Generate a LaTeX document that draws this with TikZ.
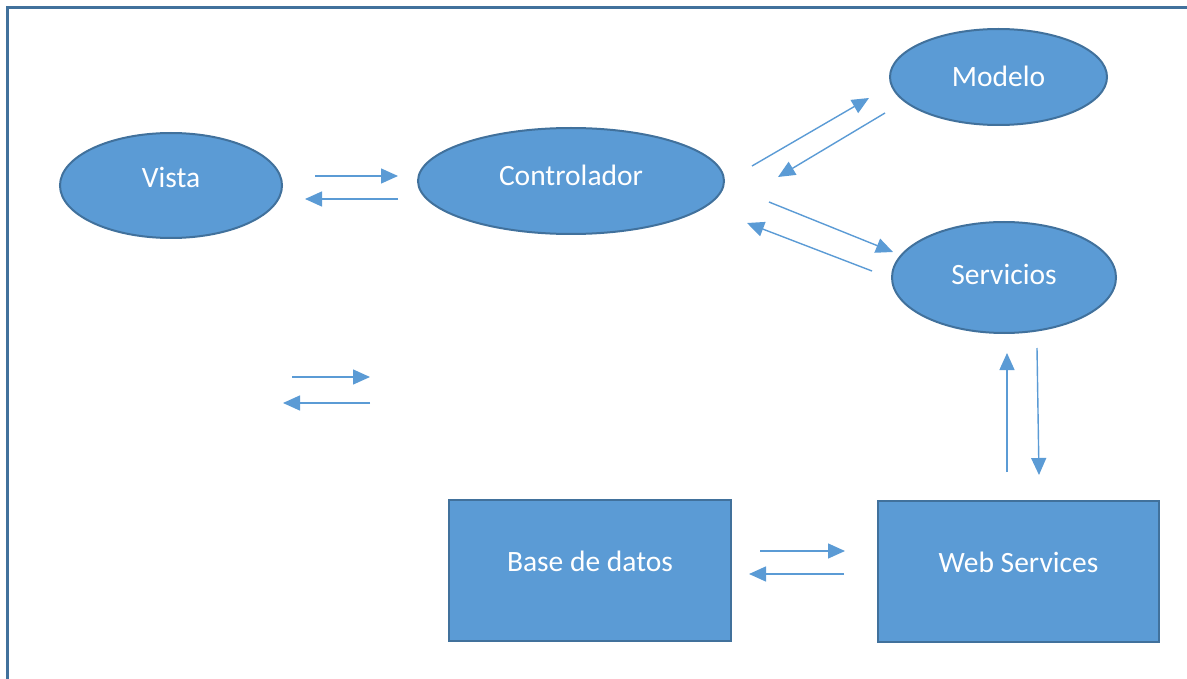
\documentclass[tikz,border=0pt]{standalone}
\usepackage{fontspec}
\setmainfont{Carlito}
\usetikzlibrary{arrows.meta,shapes.geometric}
\definecolor{fillb}{HTML}{5B9BD5}
\definecolor{edgeb}{HTML}{41719C}
\tikzset{
  shp/.style={fill=fillb,draw=edgeb,line width=2pt,inner sep=0pt},
  ell/.style={shp,ellipse},
  box/.style={shp,rectangle},
  txt/.style={text=white,font=\fontsize{29.5}{34}\selectfont},
  arr/.style={draw=fillb,line width=1.4pt,-{Triangle[length=17pt,width=15pt]}},
}
\begin{document}
\begin{tikzpicture}[x=1pt,y=-1pt]
\useasboundingbox (0,0) rectangle (1187,679);
% frame
\draw[edgeb,line width=3pt] (7,690) -- (7,7.5) -- (1200,7.5);
% shapes
\node[ell,minimum width=222pt,minimum height=105pt,label={[txt,yshift=8pt]center:Vista}] (vista) at (171,185.5) {};
\node[ell,minimum width=306pt,minimum height=106pt,label={[txt,yshift=6pt]center:Controlador}] (ctrl) at (571,181) {};
\node[ell,minimum width=217pt,minimum height=96pt,label={[txt,yshift=1pt]center:Modelo}] (modelo) at (998.5,77) {};
\node[ell,minimum width=224pt,minimum height=111pt,label={[txt,yshift=3.5pt]center:Servicios}] (serv) at (1004,277.5) {};
\node[box,minimum width=282pt,minimum height=141pt,label={[txt,yshift=9pt]center:Base de datos}] (bd) at (590,570.5) {};
\node[box,minimum width=281pt,minimum height=141pt,label={[txt,yshift=9pt]center:Web Services}] (ws) at (1018.5,571.5) {};
% arrow end points
\coordinate (a1s) at (315,176); \coordinate (a1e) at (398,176);
\coordinate (a2s) at (398,199); \coordinate (a2e) at (305,199);
\coordinate (a3s) at (752,166); \coordinate (a3e) at (869,98);
\coordinate (a4s) at (885,113); \coordinate (a4e) at (778,177);
\coordinate (a5s) at (769,202); \coordinate (a5e) at (893,252);
\coordinate (a6s) at (872,271); \coordinate (a6e) at (747,223);
\coordinate (a7s) at (292,377); \coordinate (a7e) at (370,377);
\coordinate (a8s) at (370,403); \coordinate (a8e) at (283,403);
\coordinate (a9s) at (1007,472); \coordinate (a9e) at (1007,353);
\coordinate (a10s) at (1037,348); \coordinate (a10e) at (1039,475);
\coordinate (a11s) at (760,551); \coordinate (a11e) at (845,551);
\coordinate (a12s) at (844,574); \coordinate (a12e) at (749,574);
\foreach \i in {1,...,12} {\draw[arr] (a\i s) -- (a\i e);}
\end{tikzpicture}
\end{document}
